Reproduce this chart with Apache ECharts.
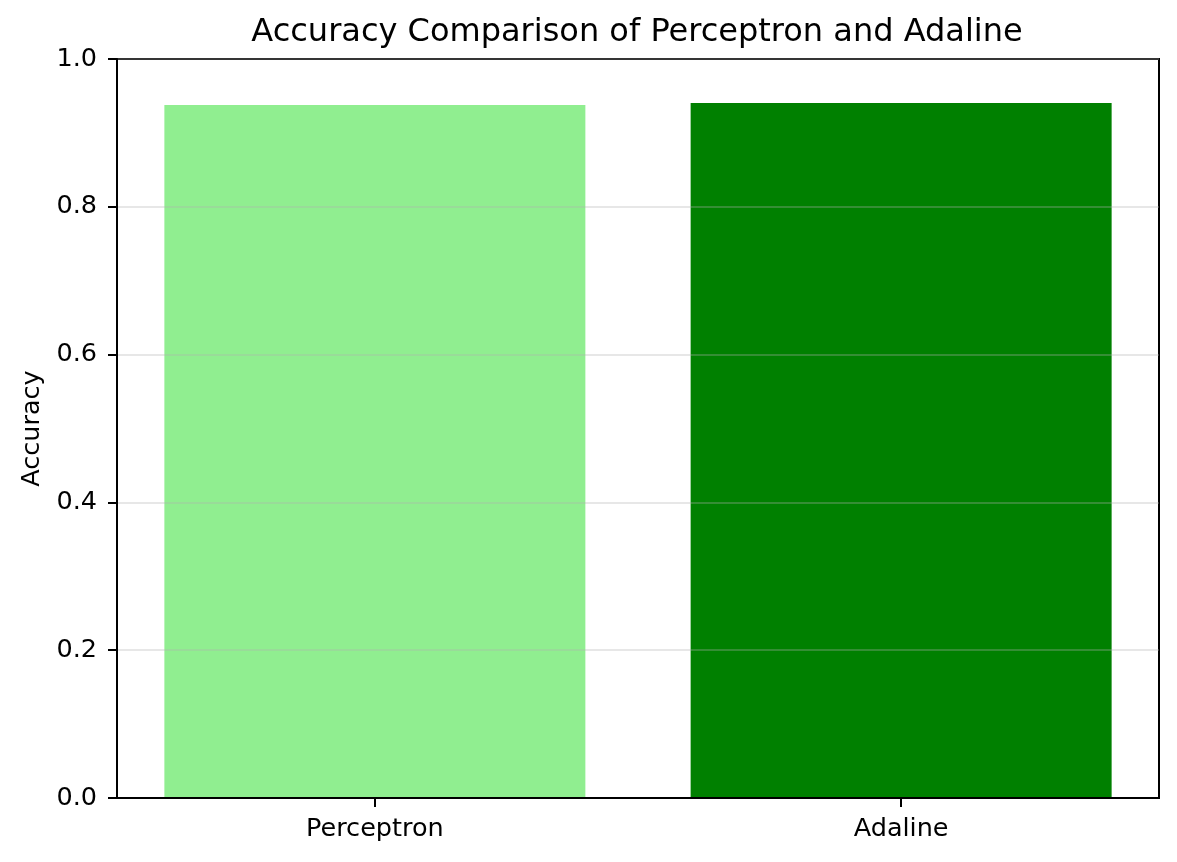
<!DOCTYPE html>
<html><head><meta charset="utf-8">
<script src="https://cdn.jsdelivr.net/npm/echarts@6/dist/echarts.min.js"></script>
<style>html,body{margin:0;padding:0;background:#fff}#c{width:1177px;height:862px}</style>
</head><body><div id="c"></div>
<script>
const categories = ['Perceptron', 'Adaline'];
const accuracy = [0.9378, 0.9405];
const barColors = ['#90ee90', '#008000'];
const yTicks = [0.0, 0.2, 0.4, 0.6, 0.8, 1.0];

const font = 'DejaVu Sans';
const positions = categories.map((c, i) => i);
const chart = echarts.init(document.getElementById('c'), null, {renderer: 'canvas'});
chart.setOption({
  animation: false,
  backgroundColor: '#fff',
  title: {
    text: 'Accuracy Comparison of Perceptron and Adaline',
    left: 632, top: 12, textAlign: 'center',
    textStyle: {fontFamily: font, fontSize: 32, fontWeight: 'normal', color: '#000'}
  },
  grid: {left: 117, right: 18, top: 59, bottom: 64, show: true, borderColor: '#000', borderWidth: 2, backgroundColor: 'transparent'},
  xAxis: {
    type: 'value', min: -0.49, max: 1.49,
    splitLine: {show: false},
    axisLine: {show: true, onZero: false, lineStyle: {color: '#000', width: 2}},
    axisTick: {show: true, customValues: positions, length: 9, lineStyle: {color: '#000', width: 2}},
    axisLabel: {fontFamily: font, fontSize: 25.5, color: '#000', margin: 18, customValues: positions,
      formatter: v => categories[Math.round(v)] || ''}
  },
  yAxis: {
    type: 'value', min: 0, max: 1, interval: 0.2,
    name: 'Accuracy', nameLocation: 'middle', nameGap: 63,
    nameTextStyle: {fontFamily: font, fontSize: 25.5, color: '#000'},
    axisLine: {show: true, onZero: false, lineStyle: {color: '#000', width: 2}},
    axisTick: {show: true, length: 9, lineStyle: {color: '#000', width: 2}},
    axisLabel: {fontFamily: font, fontSize: 25.5, color: '#000', margin: 20, formatter: v => v.toFixed(1)},
    splitLine: {show: true, lineStyle: {color: 'rgba(176,176,176,0.3)', width: 2}}
  },
  series: [{
    type: 'bar', z: -1, barWidth: 421,
    data: accuracy.map((v, i) => ({value: [positions[i], v], itemStyle: {color: barColors[i]}}))
  }]
});
</script></body></html>
